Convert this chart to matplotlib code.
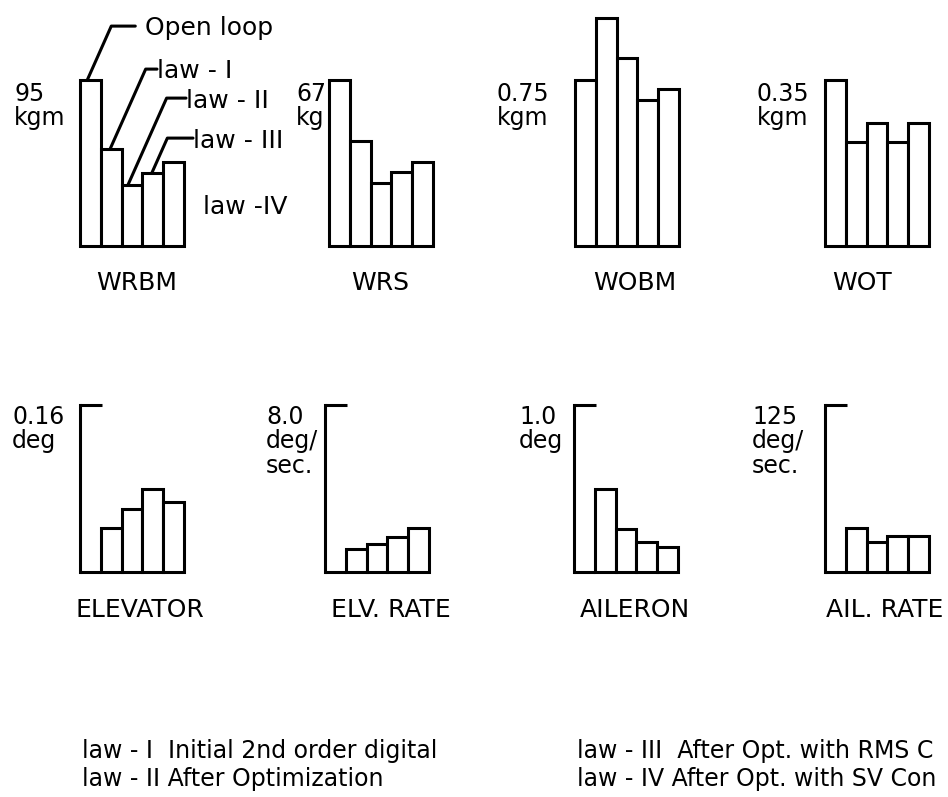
import numpy as np ;
import matplotlib
matplotlib.use("Agg")
import matplotlib.pyplot as plt ;

# rms response per control law, first entry is open loop
laws = ["Open loop", "law - I", "law - II", "law - III", "law - IV"]
wrbm = [95, 55.6, 34.8, 41.7, 48.0]
wrs = [67, 42.4, 25.4, 29.9, 33.9]
wobm = [0.75, 1.03, 0.85, 0.66, 0.71]
wot = [0.35, 0.22, 0.26, 0.22, 0.26]
# control surface activity (none in open loop)
elevator = [0, 0.042, 0.060, 0.080, 0.067]
elv_rate = [0, 1.1, 1.35, 1.7, 2.1]
aileron = [0, 0.50, 0.26, 0.18, 0.15]
ail_rate = [0, 33.0, 22.5, 27.0, 27.0]

top_names = ["WRBM", "WRS", "WOBM", "WOT"]
top_scales = [95, 67, 0.75, 0.35]
top_units = ["95\nkgm", "67\nkg", "0.75\nkgm", "0.35\nkgm"]
bot_names = ["ELEVATOR", "ELV. RATE", "AILERON", "AIL. RATE"]
bot_scales = [0.16, 8.0, 1.0, 125]
bot_units = ["0.16\ndeg", "8.0\ndeg/\nsec.", "1.0\ndeg", "125\ndeg/\nsec."]

legend_left = ["law - I  Initial 2nd order digital", "law - II After Optimization"]
legend_right = ["law - III  After Opt. with RMS C", "law - IV After Opt. with SV Con"]

W, H = 948, 797
LW = 2.2
plt.rcParams['font.family'] = ['DejaVu Sans']

fig = plt.figure(figsize=(W / 100, H / 100), dpi=100) ;

def box(x0, w, y_top, y_bot):
  # pixel box (image coords, y down) -> figure fraction rect
  return [x0 / W, 1 - y_bot / H, w / W, (y_bot - y_top) / H]

def bars(ax, vals):
  ax.bar(np.arange(len(vals)), vals, width=1.0, color="white",
         edgecolor="black", linewidth=LW, clip_on=False) ;
  ax.set_xlim(-0.5, 4.5) ;

# top row : structural loads
top_data = [wrbm, wrs, wobm, wot]
top_x = [80, 329, 575, 825]
top_unit_x = [14, 296, 497, 757]
top_title_x = [137, 380, 635, 862]
top_axes = []
for i in range(4):
  ax = fig.add_axes(box(top_x[i], 104, 80, 246)) ;
  bars(ax, top_data[i]) ;
  ax.set_ylim(0, top_scales[i]) ;
  ax.axis("off") ;
  top_axes.append(ax)
  fig.text(top_unit_x[i] / W, 1 - 82 / H, top_units[i], fontsize=17,
           ha="left", va="top", linespacing=1.02) ;
  fig.text(top_title_x[i] / W, 1 - 290 / H, top_names[i], fontsize=18,
           ha="center", va="baseline") ;

# bottom row : control surface activity
bot_data = [elevator, elv_rate, aileron, ail_rate]
bot_x = [80, 325, 574, 825]
bot_unit_x = [12, 266, 519, 752]
bot_title_x = [140, 391, 635, 885]
for i in range(4):
  ax = fig.add_axes(box(bot_x[i], 104, 405, 572)) ;
  bars(ax, bot_data[i]) ;
  ax.set_ylim(0, bot_scales[i]) ;
  for s in ["top", "right", "bottom"]:
    ax.spines[s].set_visible(False)
  ax.spines["left"].set_linewidth(LW) ;
  ax.spines["left"].set_capstyle("projecting") ;
  ax.set_xticks([]) ;
  ax.set_yticks([bot_scales[i]]) ;
  ax.tick_params(axis="y", direction="in", length=16, width=LW, labelleft=False) ;
  ax.patch.set_visible(False)
  fig.text(bot_unit_x[i] / W, 1 - 405 / H, bot_units[i], fontsize=17,
           ha="left", va="top", linespacing=1.02) ;
  fig.text(bot_title_x[i] / W, 1 - 617 / H, bot_names[i], fontsize=18,
           ha="center", va="baseline") ;

# labels with leader lines on the WRBM bars
ax = top_axes[0]
lead_x = [-0.15, 0.95, 1.8, 2.95]
text_pos = [(145, 28.5), (157, 71.5), (186, 100.5), (193, 140.5)]
gaps = [7, 0, 0, 0]
for i in range(4):
  ax.annotate(laws[i], xy=(lead_x[i], wrbm[i]), xycoords="data",
              xytext=(text_pos[i][0], H - text_pos[i][1]), textcoords="figure pixels",
              ha="left", va="center", fontsize=18,
              arrowprops=dict(arrowstyle="-", lw=LW, color="black", relpos=(0, 0.6),
                              patchA=None, shrinkA=gaps[i], shrinkB=0,
                              connectionstyle="angle,angleA=0,angleB=66")) ;
fig.text(203 / W, 1 - 206.5 / H, "law -IV", fontsize=18, ha="left", va="center") ;

# law descriptions
for j in range(2):
  fig.text(82 / W, 1 - (758 + 28 * j) / H, legend_left[j], fontsize=17,
           ha="left", va="baseline") ;
  fig.text(577 / W, 1 - (758 + 28 * j) / H, legend_right[j], fontsize=17,
           ha="left", va="baseline") ;

fig.savefig("out.png", dpi=100) ;
